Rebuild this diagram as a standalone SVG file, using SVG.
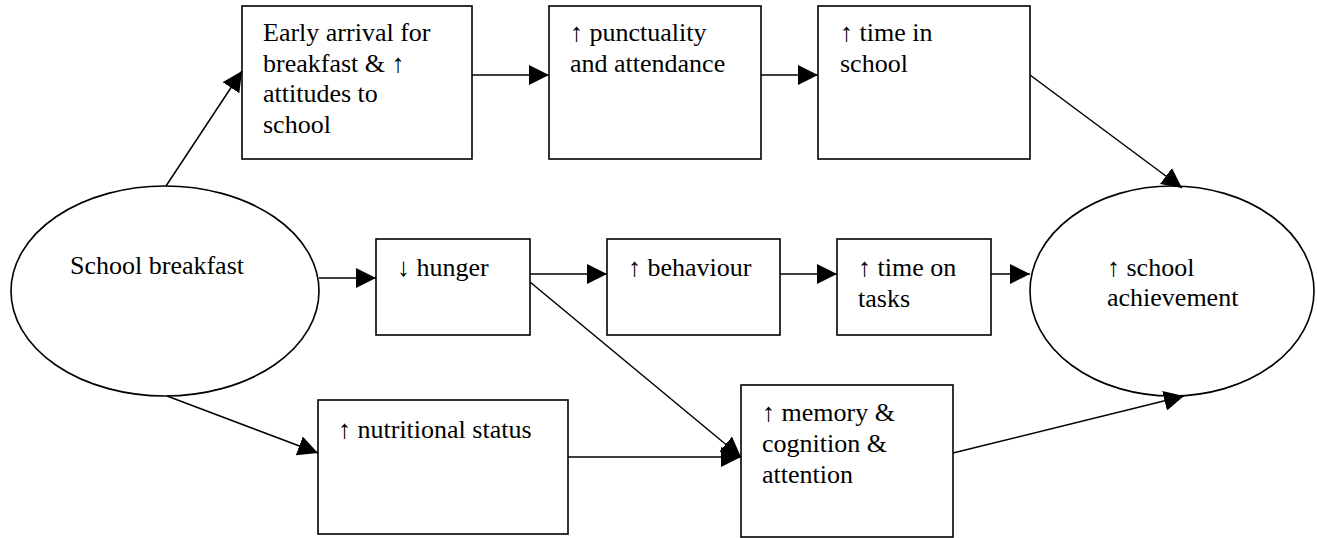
<svg xmlns="http://www.w3.org/2000/svg" width="1317" height="538" viewBox="0 0 1317 538">
<style>
.n{fill:#fff;stroke:#000;stroke-width:1.6}
.t{font-family:"Liberation Serif","Times New Roman",serif;font-size:26px;fill:#000}
.c{fill:none;stroke:#000;stroke-width:1.5}
</style>
<defs>
<marker id="ah" markerUnits="userSpaceOnUse" markerWidth="20" markerHeight="20" refX="20" refY="10" orient="auto" viewBox="0 0 20 20">
<path d="M0,0 L20,10 L0,20 Z" fill="#000"/>
</marker>
</defs>
<rect width="1317" height="538" fill="#fff"/>
<g id="n-breakfast"><ellipse class="n" cx="165" cy="291" rx="154" ry="105"/><text class="t" x="70" y="274">School breakfast</text></g>
<g id="n-early"><rect class="n" x="242" y="6" width="230" height="153"/><text class="t"><tspan x="263" y="41">Early arrival for</tspan><tspan x="263" y="72">breakfast &amp; ↑</tspan><tspan x="263" y="102">attitudes to</tspan><tspan x="263" y="133">school</tspan></text></g>
<g id="n-punct"><rect class="n" x="549" y="6" width="212" height="153"/><text class="t"><tspan x="570" y="41">↑ punctuality</tspan><tspan x="570" y="72">and attendance</tspan></text></g>
<g id="n-timeschool"><rect class="n" x="818" y="6" width="212" height="153"/><text class="t"><tspan x="840" y="41">↑ time in</tspan><tspan x="840" y="72">school</tspan></text></g>
<g id="n-hunger"><rect class="n" x="376" y="239" width="154" height="96"/><text class="t" x="397" y="276">↓ hunger</text></g>
<g id="n-behaviour"><rect class="n" x="607" y="239" width="173" height="96"/><text class="t" x="628" y="276">↑ behaviour</text></g>
<g id="n-tasks"><rect class="n" x="837" y="239" width="154" height="96"/><text class="t"><tspan x="858" y="276">↑ time on</tspan><tspan x="858" y="307">tasks</tspan></text></g>
<g id="n-achievement"><ellipse class="n" cx="1172" cy="291" rx="142" ry="105"/><text class="t"><tspan x="1107" y="276">↑ school</tspan><tspan x="1107" y="306">achievement</tspan></text></g>
<g id="n-nutrition"><rect class="n" x="318" y="400" width="250" height="134"/><text class="t" x="338" y="438">↑ nutritional status</text></g>
<g id="n-memory"><rect class="n" x="741" y="385" width="212" height="152"/><text class="t"><tspan x="762" y="421">↑ memory &amp;</tspan><tspan x="762" y="452">cognition &amp;</tspan><tspan x="762" y="483">attention</tspan></text></g>
<g id="connectors">
<line class="c" x1="166" y1="186" x2="242" y2="71" marker-end="url(#ah)"/>
<line class="c" x1="472" y1="75" x2="549" y2="75" marker-end="url(#ah)"/>
<line class="c" x1="761" y1="75" x2="818" y2="75" marker-end="url(#ah)"/>
<line class="c" x1="1030" y1="75" x2="1182" y2="188" marker-end="url(#ah)"/>
<line class="c" x1="319" y1="278" x2="376" y2="278" marker-end="url(#ah)"/>
<line class="c" x1="530" y1="274" x2="607" y2="274" marker-end="url(#ah)"/>
<line class="c" x1="780" y1="274" x2="837" y2="274" marker-end="url(#ah)"/>
<line class="c" x1="991" y1="274" x2="1030" y2="274" marker-end="url(#ah)"/>
<line class="c" x1="530" y1="282" x2="741" y2="457" marker-end="url(#ah)"/>
<line class="c" x1="167" y1="396" x2="318" y2="453" marker-end="url(#ah)"/>
<line class="c" x1="568" y1="457" x2="741" y2="457" marker-end="url(#ah)"/>
<line class="c" x1="953" y1="453" x2="1184" y2="396" marker-end="url(#ah)"/>
</g>
</svg>
